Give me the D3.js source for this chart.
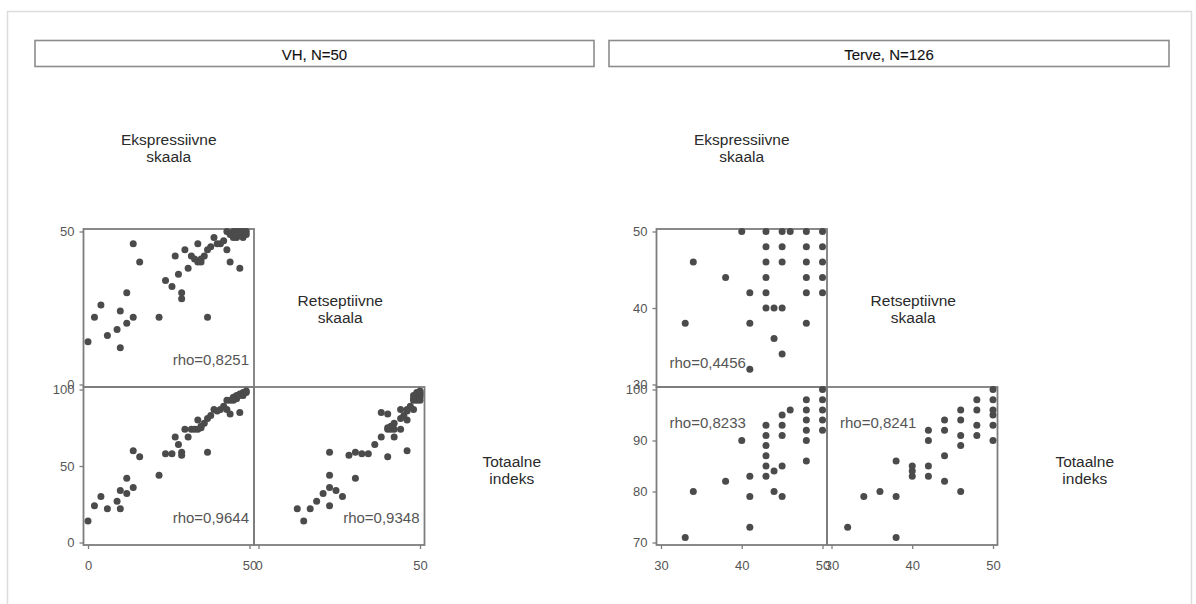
<!DOCTYPE html>
<html>
<head>
<meta charset="utf-8">
<script src="https://cdn.jsdelivr.net/npm/d3@7"></script>
<style>
  body { margin: 0; background: #fff; }
  text { font-family: "Liberation Sans", Arial, sans-serif; }
</style>
</head>
<body>
<div id="chart"></div>
<script>
// variable names shown on the diagonal
const varLabels = [["Ekspressiivne", "skaala"], ["Retseptiivne", "skaala"], ["Totaalne", "indeks"]];
const panelTitles = ["VH, N=50", "Terve, N=126"];

// VH group: expressive, receptive, total
const vhEks = [0, 2, 4, 6, 9, 10, 10, 12, 12, 14, 14, 16, 22, 37, 24, 26, 28, 29, 29, 27, 30, 31, 32, 33, 34, 35, 35, 34, 37, 39, 41, 43, 44, 47, 43, 44, 45, 46, 47, 48, 49, 46, 47, 48, 45, 49, 42, 40, 36, 38];
const vhRet = [14, 22, 26, 16, 18, 24, 12, 30, 20, 22, 46, 40, 22, 22, 34, 32, 36, 30, 28, 42, 44, 38, 42, 41, 40, 40, 41, 46, 44, 48, 46, 44, 40, 38, 50, 49, 50, 50, 50, 50, 50, 48, 49, 48, 48, 49, 47, 46, 42, 45];
const vhTot = [14, 24, 30, 22, 27, 34, 22, 42, 32, 36, 60, 56, 44, 59, 58, 58, 64, 59, 57, 69, 74, 69, 74, 74, 74, 75, 76, 80, 81, 87, 87, 87, 84, 85, 93, 93, 95, 96, 97, 98, 99, 94, 96, 96, 93, 98, 89, 86, 78, 83];

// Terve group
const terveEks = [40, 43, 45, 46, 48, 50, 43, 45, 48, 50, 34, 43, 45, 48, 50, 38, 43, 48, 50, 41, 43, 48, 50, 43, 44, 45, 33, 41, 48, 44, 45, 41];
const terveRet = [50, 50, 50, 50, 50, 50, 48, 48, 48, 48, 46, 46, 46, 46, 46, 44, 44, 44, 44, 42, 42, 42, 42, 40, 40, 40, 38, 38, 38, 36, 34, 32];
const terveTot = [90, 93, 95, 96, 98, 100, 91, 93, 96, 98, 80, 89, 91, 94, 96, 82, 87, 92, 94, 83, 85, 90, 92, 83, 84, 85, 71, 79, 86, 80, 79, 73];

const vhTicks = [[0, 50], [0, 50], [0, 50, 100]];
const terveTicks = [[30, 40, 50], [30, 40, 50], [70, 80, 90, 100]];

// rho for cells (Retsept~Ekspr, Totaal~Ekspr, Totaal~Retsept)
const vhRho = ["rho=0,8251", "rho=0,9644", "rho=0,9348"];
const terveRho = ["rho=0,4456", "rho=0,8233", "rho=0,8241"];

const W = 1196, H = 604;
const cw = 170.5, ch = 158, top0 = 71;
const padX = 4.5, padY = 2.5;

const svg = d3.select('#chart').append('svg')
  .attr('width', W).attr('height', H);

svg.append('rect')
  .attr('x', 7.5).attr('y', 11.5).attr('width', 1184).attr('height', 610)
  .attr('fill', 'none').attr('stroke', '#dcdcdc').attr('stroke-width', 1.5);

const panels = [
  { title: panelTitles[0], vars: [vhEks, vhRet, vhTot], ticks: vhTicks, rho: vhRho,
    x0: 83.5, box: [35, 594], rhoPos: ['br', 'br', 'br'] },
  { title: panelTitles[1], vars: [terveEks, terveRet, terveTot], ticks: terveTicks, rho: terveRho,
    x0: 656.5, box: [609, 1169], rhoPos: ['bl', 'tl', 'tl'] }
];

// pairs [row var, col var] of lower half
const cells = [[1, 0], [2, 0], [2, 1]];

panels.forEach(p => {
  const g = svg.append('g');

  // header strip
  g.append('rect')
    .attr('x', p.box[0]).attr('y', 40.5)
    .attr('width', p.box[1] - p.box[0]).attr('height', 26)
    .attr('fill', '#fff').attr('stroke', '#8c8c8c').attr('stroke-width', 1.6);
  g.append('text')
    .attr('x', (p.box[0] + p.box[1]) / 2).attr('y', 54)
    .attr('text-anchor', 'middle').attr('dominant-baseline', 'central')
    .attr('font-size', 15).attr('fill', '#111')
    .style('stroke', '#111').style('stroke-width', 0.12)
    .text(p.title);

  const colLeft = j => p.x0 + j * cw;
  const rowTop = i => top0 + i * ch;

  const xs = p.ticks.map((t, j) => d3.scaleLinear()
    .domain(d3.extent(t))
    .range([colLeft(j) + padX, colLeft(j) + cw - padX]));
  const ys = p.ticks.map((t, i) => d3.scaleLinear()
    .domain(d3.extent(t))
    .range([rowTop(i) + ch - padY, rowTop(i) + padY]));

  // diagonal labels
  varLabels.forEach((lab, k) => {
    const cx = colLeft(k) + cw / 2 + k, cy = rowTop(k) + ch / 2 + (k - 1) * 3;
    g.append('text')
      .attr('x', cx).attr('y', cy - 8)
      .attr('text-anchor', 'middle').attr('dominant-baseline', 'central')
      .attr('font-size', 15.5).attr('fill', '#2a2a2a')
      .text(lab[0]);
    g.append('text')
      .attr('x', cx).attr('y', cy + 9)
      .attr('text-anchor', 'middle').attr('dominant-baseline', 'central')
      .attr('font-size', 15.5).attr('fill', '#2a2a2a')
      .text(lab[1]);
  });

  cells.forEach(([i, j], c) => {
    const data = d3.range(p.vars[0].length).map(n => [p.vars[j][n], p.vars[i][n]]);
    const cg = g.append('g');

    cg.append('rect')
      .attr('x', colLeft(j)).attr('y', rowTop(i))
      .attr('width', cw).attr('height', ch)
      .attr('fill', 'none').attr('stroke', '#7d7d7d').attr('stroke-width', 1.8);

    cg.selectAll('circle')
      .data(data)
      .enter()
      .append('circle')
      .attr('cx', d => xs[j](d[0]))
      .attr('cy', d => ys[i](d[1]))
      .attr('r', 3.5)
      .attr('fill', '#4b4b4b');

    // rho text
    const pos = p.rhoPos[c];
    const t = cg.append('text')
      .attr('font-size', 15).attr('fill', '#555')
      .text(p.rho[c]);
    if (pos === 'br') {
      t.attr('x', colLeft(j) + cw - 5).attr('y', rowTop(i) + ch - 22).attr('text-anchor', 'end');
    } else if (pos === 'bl') {
      t.attr('x', colLeft(j) + 13).attr('y', rowTop(i) + ch - 19);
    } else {
      t.attr('x', colLeft(j) + 13).attr('y', rowTop(i) + 41);
    }
  });

  // y axes on the left column
  [1, 2].forEach(i => {
    const ax = g.append('g')
      .attr('transform', `translate(${colLeft(0)},0)`)
      .call(d3.axisLeft(ys[i]).tickValues(p.ticks[i]).tickSize(4).tickPadding(5));
    styleAxis(ax);
  });
  // x axes along the bottom
  [0, 1].forEach(j => {
    const ax = g.append('g')
      .attr('transform', `translate(0,${rowTop(3)})`)
      .call(d3.axisBottom(xs[j]).tickValues(p.ticks[j]).tickSize(4).tickPadding(12));
    styleAxis(ax);
  });
});

function styleAxis(ax) {
  ax.select('.domain').remove();
  ax.selectAll('.tick line').attr('stroke', '#7d7d7d').attr('stroke-width', 1.3);
  ax.selectAll('.tick text')
    .attr('font-size', 13).attr('fill', '#555')
    .style('font-family', '"Liberation Sans", Arial, sans-serif');
}
</script>
</body>
</html>
